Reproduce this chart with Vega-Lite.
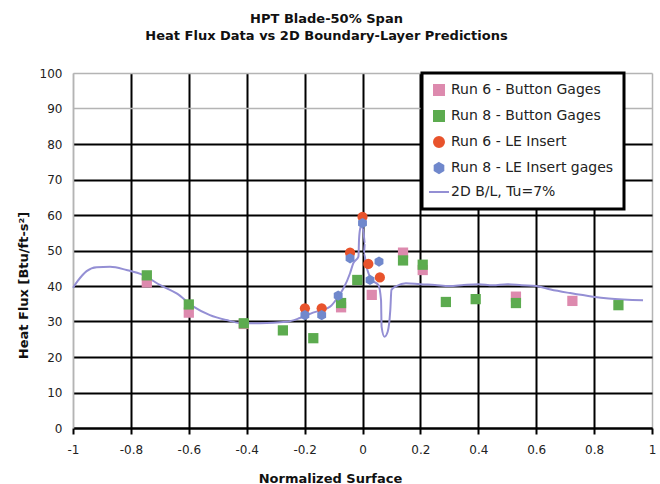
{
  "$schema": "https://vega.github.io/schema/vega-lite/v6.json",
  "autosize": "none",
  "width": 579,
  "height": 355,
  "padding": {"left": 73, "top": 73, "right": 8, "bottom": 56},
  "background": "white",
  "title": {
    "text": ["HPT Blade-50% Span", "Heat Flux Data vs 2D Boundary-Layer Predictions"],
    "font": "DejaVu Sans",
    "fontSize": 13,
    "fontWeight": "bold",
    "color": "#111",
    "lineHeight": 17,
    "anchor": "middle",
    "frame": "group",
    "baseline": "alphabetic",
    "offset": 14,
    "dx": -36
  },
  "config": {
    "view": {"stroke": null},
    "axis": {
      "labelFont": "DejaVu Sans",
      "labelFontSize": 12,
      "labelColor": "#222",
      "titleFont": "DejaVu Sans",
      "titleFontSize": 13,
      "titleFontWeight": "bold",
      "titleColor": "#111"
    }
  },
  "data": {
    "values": [
      {"s": "2D B/L, Tu=7%", "i": 1, "x": -1.0, "y": 39.5},
      {"s": "2D B/L, Tu=7%", "i": 2, "x": -0.983, "y": 41.5},
      {"s": "2D B/L, Tu=7%", "i": 3, "x": -0.953, "y": 44.2},
      {"s": "2D B/L, Tu=7%", "i": 4, "x": -0.918, "y": 45.3},
      {"s": "2D B/L, Tu=7%", "i": 5, "x": -0.872, "y": 45.4},
      {"s": "2D B/L, Tu=7%", "i": 6, "x": -0.815, "y": 44.5},
      {"s": "2D B/L, Tu=7%", "i": 7, "x": -0.758, "y": 43.1},
      {"s": "2D B/L, Tu=7%", "i": 8, "x": -0.7, "y": 40.3},
      {"s": "2D B/L, Tu=7%", "i": 9, "x": -0.642, "y": 37.9},
      {"s": "2D B/L, Tu=7%", "i": 10, "x": -0.584, "y": 34.2},
      {"s": "2D B/L, Tu=7%", "i": 11, "x": -0.527, "y": 31.8},
      {"s": "2D B/L, Tu=7%", "i": 12, "x": -0.47, "y": 30.4},
      {"s": "2D B/L, Tu=7%", "i": 13, "x": -0.423, "y": 29.6},
      {"s": "2D B/L, Tu=7%", "i": 14, "x": -0.354, "y": 29.5},
      {"s": "2D B/L, Tu=7%", "i": 15, "x": -0.262, "y": 29.9},
      {"s": "2D B/L, Tu=7%", "i": 16, "x": -0.216, "y": 31.0},
      {"s": "2D B/L, Tu=7%", "i": 17, "x": -0.171, "y": 32.5},
      {"s": "2D B/L, Tu=7%", "i": 18, "x": -0.112, "y": 34.2},
      {"s": "2D B/L, Tu=7%", "i": 19, "x": -0.084, "y": 37.0},
      {"s": "2D B/L, Tu=7%", "i": 20, "x": -0.066, "y": 39.3},
      {"s": "2D B/L, Tu=7%", "i": 21, "x": -0.043, "y": 43.6},
      {"s": "2D B/L, Tu=7%", "i": 22, "x": -0.032, "y": 46.4},
      {"s": "2D B/L, Tu=7%", "i": 23, "x": -0.014, "y": 48.3},
      {"s": "2D B/L, Tu=7%", "i": 24, "x": -0.012, "y": 53.0},
      {"s": "2D B/L, Tu=7%", "i": 25, "x": -0.008, "y": 56.2},
      {"s": "2D B/L, Tu=7%", "i": 26, "x": -0.003, "y": 57.2},
      {"s": "2D B/L, Tu=7%", "i": 27, "x": 0.004, "y": 54.8},
      {"s": "2D B/L, Tu=7%", "i": 28, "x": 0.008, "y": 52.0},
      {"s": "2D B/L, Tu=7%", "i": 29, "x": 0.005, "y": 49.2},
      {"s": "2D B/L, Tu=7%", "i": 30, "x": 0.014, "y": 45.4},
      {"s": "2D B/L, Tu=7%", "i": 31, "x": 0.032, "y": 41.7},
      {"s": "2D B/L, Tu=7%", "i": 32, "x": 0.055, "y": 40.3},
      {"s": "2D B/L, Tu=7%", "i": 33, "x": 0.064, "y": 36.0},
      {"s": "2D B/L, Tu=7%", "i": 34, "x": 0.066, "y": 28.5},
      {"s": "2D B/L, Tu=7%", "i": 35, "x": 0.076, "y": 25.7},
      {"s": "2D B/L, Tu=7%", "i": 36, "x": 0.087, "y": 27.1},
      {"s": "2D B/L, Tu=7%", "i": 37, "x": 0.096, "y": 33.2},
      {"s": "2D B/L, Tu=7%", "i": 38, "x": 0.1, "y": 38.9},
      {"s": "2D B/L, Tu=7%", "i": 39, "x": 0.118, "y": 40.0},
      {"s": "2D B/L, Tu=7%", "i": 40, "x": 0.15, "y": 40.8},
      {"s": "2D B/L, Tu=7%", "i": 41, "x": 0.2, "y": 40.5},
      {"s": "2D B/L, Tu=7%", "i": 42, "x": 0.25, "y": 40.3},
      {"s": "2D B/L, Tu=7%", "i": 43, "x": 0.3, "y": 40.0},
      {"s": "2D B/L, Tu=7%", "i": 44, "x": 0.35, "y": 40.3},
      {"s": "2D B/L, Tu=7%", "i": 45, "x": 0.4, "y": 40.5},
      {"s": "2D B/L, Tu=7%", "i": 46, "x": 0.45, "y": 40.2},
      {"s": "2D B/L, Tu=7%", "i": 47, "x": 0.5, "y": 40.5},
      {"s": "2D B/L, Tu=7%", "i": 48, "x": 0.55, "y": 40.2},
      {"s": "2D B/L, Tu=7%", "i": 49, "x": 0.6, "y": 40.0},
      {"s": "2D B/L, Tu=7%", "i": 50, "x": 0.65, "y": 39.0},
      {"s": "2D B/L, Tu=7%", "i": 51, "x": 0.717, "y": 38.0},
      {"s": "2D B/L, Tu=7%", "i": 52, "x": 0.796, "y": 37.0},
      {"s": "2D B/L, Tu=7%", "i": 53, "x": 0.85, "y": 36.5},
      {"s": "2D B/L, Tu=7%", "i": 54, "x": 0.969, "y": 36.0},
      {"s": "Run 6 - Button Gages", "x": -0.745, "y": 41.0},
      {"s": "Run 6 - Button Gages", "x": -0.6, "y": 32.5},
      {"s": "Run 6 - Button Gages", "x": -0.41, "y": 29.3},
      {"s": "Run 6 - Button Gages", "x": -0.074, "y": 34.0},
      {"s": "Run 6 - Button Gages", "x": 0.032, "y": 37.5},
      {"s": "Run 6 - Button Gages", "x": 0.14, "y": 49.4},
      {"s": "Run 6 - Button Gages", "x": 0.208, "y": 44.5},
      {"s": "Run 6 - Button Gages", "x": 0.53, "y": 37.0},
      {"s": "Run 6 - Button Gages", "x": 0.725, "y": 35.8},
      {"s": "Run 8 - Button Gages", "x": -0.745, "y": 43.0},
      {"s": "Run 8 - Button Gages", "x": -0.6, "y": 34.8},
      {"s": "Run 8 - Button Gages", "x": -0.41, "y": 29.5},
      {"s": "Run 8 - Button Gages", "x": -0.275, "y": 27.5},
      {"s": "Run 8 - Button Gages", "x": -0.17, "y": 25.3},
      {"s": "Run 8 - Button Gages", "x": -0.074, "y": 35.2},
      {"s": "Run 8 - Button Gages", "x": -0.018, "y": 41.7},
      {"s": "Run 8 - Button Gages", "x": 0.14, "y": 47.2},
      {"s": "Run 8 - Button Gages", "x": 0.208, "y": 46.0},
      {"s": "Run 8 - Button Gages", "x": 0.288, "y": 35.5},
      {"s": "Run 8 - Button Gages", "x": 0.391, "y": 36.3},
      {"s": "Run 8 - Button Gages", "x": 0.53, "y": 35.2},
      {"s": "Run 8 - Button Gages", "x": 0.884, "y": 34.6},
      {"s": "Run 6 - LE Insert", "x": 0.0, "y": 59.5},
      {"s": "Run 6 - LE Insert", "x": -0.043, "y": 49.4},
      {"s": "Run 6 - LE Insert", "x": 0.02, "y": 46.2},
      {"s": "Run 6 - LE Insert", "x": 0.06, "y": 42.4},
      {"s": "Run 6 - LE Insert", "x": -0.199, "y": 33.7},
      {"s": "Run 6 - LE Insert", "x": -0.141, "y": 33.7},
      {"s": "Run 8 - LE Insert gages", "x": 0.0, "y": 57.7},
      {"s": "Run 8 - LE Insert gages", "x": -0.043, "y": 47.8},
      {"s": "Run 8 - LE Insert gages", "x": 0.026, "y": 41.7},
      {"s": "Run 8 - LE Insert gages", "x": 0.057, "y": 46.9},
      {"s": "Run 8 - LE Insert gages", "x": -0.084, "y": 37.3},
      {"s": "Run 8 - LE Insert gages", "x": -0.199, "y": 31.8},
      {"s": "Run 8 - LE Insert gages", "x": -0.141, "y": 31.8}
    ]
  },
  "encoding": {
    "x": {
      "field": "x",
      "type": "quantitative",
      "scale": {"domain": [-1, 1], "nice": false, "zero": false},
      "axis": {
        "title": "Normalized Surface",
        "values": [-1, -0.8, -0.6, -0.4, -0.2, 0, 0.2, 0.4, 0.6, 0.8, 1],
        "labelExpr": "'' + datum.value",
        "grid": true,
        "gridColor": {"condition": {"test": "datum.value <= -1 || datum.value >= 1", "value": "#b4b4b4"}, "value": "#000000"},
        "gridWidth": {"condition": {"test": "datum.value <= -1 || datum.value >= 1", "value": 1.5}, "value": 2},
        "domain": true,
        "domainColor": "#000000",
        "domainWidth": 2,
        "ticks": true,
        "tickColor": "#000000",
        "tickWidth": 2,
        "tickSize": 6,
        "labelPadding": 10,
        "labelFlush": false,
        "labelOverlap": false,
        "titleX": 257,
        "titleY": 54,
        "titleBaseline": "alphabetic",
        "titleAlign": "center"
      }
    },
    "y": {
      "field": "y",
      "type": "quantitative",
      "scale": {"domain": [0, 100], "nice": false},
      "axis": {
        "title": "Heat Flux [Btu/ft-s²]",
        "values": [0, 10, 20, 30, 40, 50, 60, 70, 80, 90, 100],
        "grid": true,
        "gridColor": {"condition": {"test": "datum.value >= 90", "value": "#b4b4b4"}, "value": "#000000"},
        "gridWidth": {"condition": {"test": "datum.value >= 90", "value": 1.5}, "value": 2},
        "domain": true,
        "domainColor": "#b4b4b4",
        "domainWidth": 1.5,
        "ticks": false,
        "tickSize": 0,
        "labelPadding": 11,
        "labelOverlap": false,
        "titleX": -50,
        "titleY": 212,
        "titleAngle": -90,
        "titleAlign": "center",
        "titleBaseline": "middle"
      }
    }
  },
  "layer": [
    {
      "transform": [{"filter": "datum.s === '2D B/L, Tu=7%'"}],
      "mark": {"type": "line", "strokeWidth": 2, "interpolate": "monotone"},
      "encoding": {
        "order": {"field": "i", "type": "quantitative"},
        "color": {
          "field": "s",
          "type": "nominal",
          "scale": {
            "domain": ["Run 6 - Button Gages", "Run 8 - Button Gages", "Run 6 - LE Insert", "Run 8 - LE Insert gages", "2D B/L, Tu=7%"],
            "range": ["#dd8aae", "#5cab4f", "#e8532c", "#7088cc", "#948fd4"]
          },
          "legend": {
            "orient": "none",
            "legendX": 349,
            "legendY": 0,
            "title": null,
            "padding": 10,
            "fillColor": "#ffffff",
            "strokeColor": "#000000",
            "symbolSize": 400,
            "symbolStrokeWidth": 2,
            "labelFont": "DejaVu Sans",
            "labelFontSize": 14,
            "labelColor": "#222",
            "labelOffset": 5,
            "rowPadding": 8,
            "labelLimit": 300,
            "encode": {
              "legend": {"update": {"strokeWidth": {"value": 3}}},
              "symbols": {"update": {
                "shape": {"signal": "datum.value === 'Run 6 - LE Insert' ? 'circle' : datum.value === 'Run 8 - LE Insert gages' ? 'M0,-1L0.866,-0.5L0.866,0.5L0,1L-0.866,0.5L-0.866,-0.5Z' : datum.value === '2D B/L, Tu=7%' ? 'stroke' : 'square'"},
                "size": {"signal": "datum.value === '2D B/L, Tu=7%' ? 400 : 100"},
                "fill": {"signal": "datum.value === '2D B/L, Tu=7%' ? 'transparent' : scale('color', datum.value)"},
                "stroke": {"signal": "datum.value === '2D B/L, Tu=7%' ? scale('color', datum.value) : 'transparent'"},
                "strokeWidth": {"value": 2},
                "opacity": {"value": 1}
              }}
            }
          }
        }
      }
    },
    {
      "transform": [{"filter": "datum.s !== '2D B/L, Tu=7%'"}],
      "mark": {"type": "point", "filled": true, "opacity": 1, "size": 105},
      "encoding": {
        "color": {"field": "s", "type": "nominal"},
        "shape": {
          "field": "s",
          "type": "nominal",
          "scale": {
            "domain": ["Run 6 - Button Gages", "Run 8 - Button Gages", "Run 6 - LE Insert", "Run 8 - LE Insert gages", "2D B/L, Tu=7%"],
            "range": ["square", "square", "circle", "M0,-1L0.866,-0.5L0.866,0.5L0,1L-0.866,0.5L-0.866,-0.5Z", "stroke"]
          },
          "legend": null
        }
      }
    }
  ]
}
